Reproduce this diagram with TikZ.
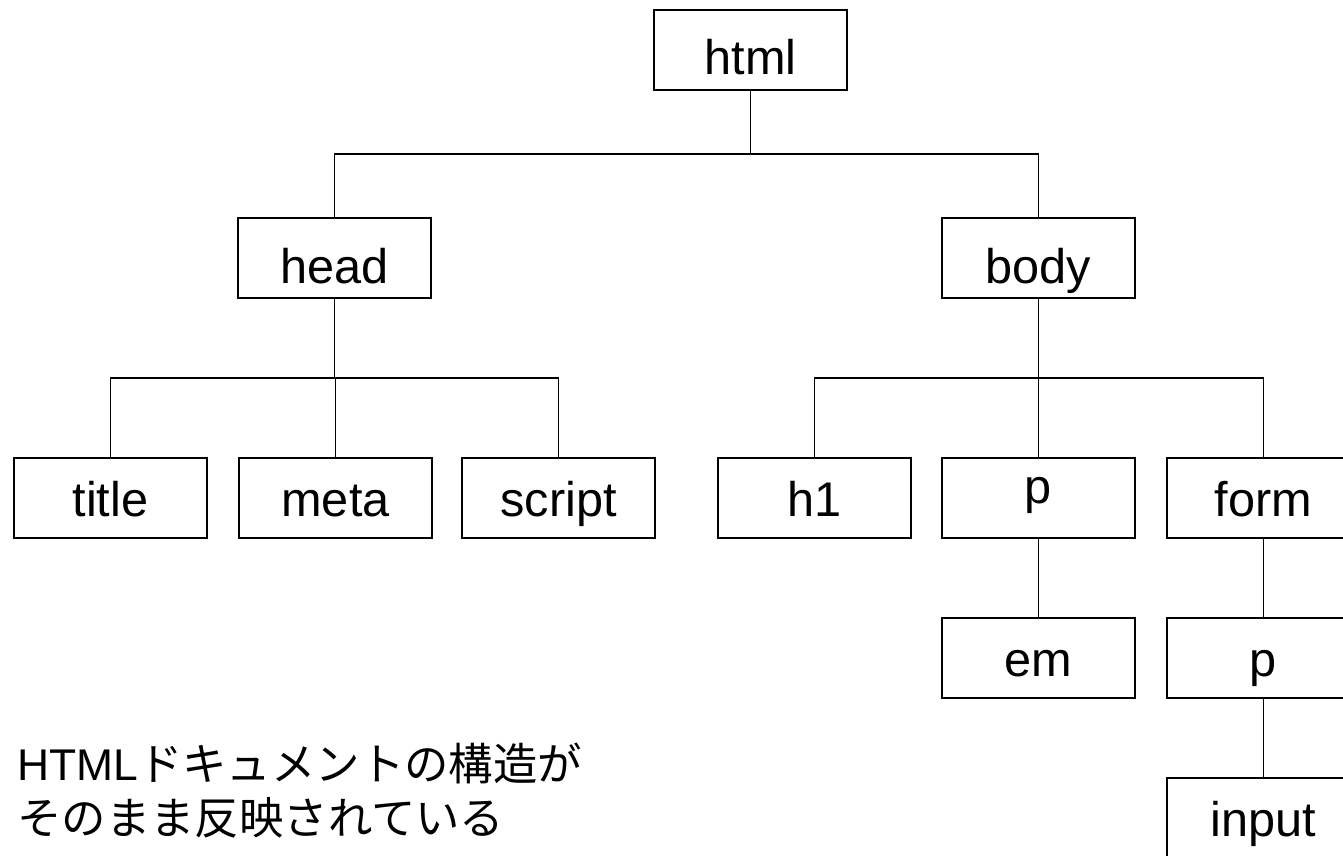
\documentclass[tikz,border=0pt]{standalone}
\usepackage{fontspec}
\setmainfont{Liberation Sans}
\newfontfamily\jpfont{Noto Sans CJK JP}
\begin{document}
\begin{tikzpicture}[x=0.75pt,y=-0.75pt,
  box/.style={draw, line width=1.1pt, minimum width=144.75pt, minimum height=60pt,
    inner sep=0pt, text height=#1, text depth=0pt,
    font=\fontsize{36.5}{40}\selectfont},
  box/.default=27pt,
  conn/.style={line width=1.1pt},
  caption/.style={anchor=base west, inner sep=0pt, font=\fontsize{33.3}{40}\selectfont}]
\useasboundingbox (0,0) rectangle (1343,856);
% level 1
\node[box=37.5pt] (html) at (750.5,50) {html};
% level 2
\node[box=37.5pt] (head) at (334.5,258) {head};
\node[box=37.5pt] (body) at (1038.5,258) {body};
% level 3
\node[box] (title)  at (110.5,498) {title};
\node[box] (meta)   at (335.5,498) {meta};
\node[box] (script) at (558.5,498) {script};
\node[box] (h1)     at (814.5,498) {h1};
\node[box] (p)      at (1038.5,498) {\raisebox{0.25em}{p}};
\node[box] (form)   at (1263.5,498) {form};
% level 4
\node[box] (em) at (1038.5,658) {em};
\node[box] (p2) at (1263.5,658) {p};
% level 5
\node[box] (input) at (1263.5,818) {input};
% junctions
\coordinate (j1) at (750.5,154);
\coordinate (j2) at (334.5,378);
\coordinate (j3) at (1038.5,378);
% connectors
\draw[conn] (html.south) -- (j1);
\draw[conn] (head.north) |- (j1) -| (body.north);
\draw[conn] (head.south) -- (j2);
\draw[conn] (title.north) |- (j2) -| (script.north);
\draw[conn] (meta.north) -- (meta.north |- j2);
\draw[conn] (body.south) -- (j3);
\draw[conn] (h1.north) |- (j3) -| (form.north);
\draw[conn] (p.north) -- (j3);
\draw[conn] (p.south) -- (em.north);
\draw[conn] (form.south) -- (p2.north);
\draw[conn] (p2.south) -- (input.north);
% caption
\node[caption] (cap1) at (17,780) {HTML{\jpfont ドキュメントの構造が}};
\node[caption] (cap2) at (17,834) {\jpfont そのまま反映されている};
\end{tikzpicture}
\end{document}
